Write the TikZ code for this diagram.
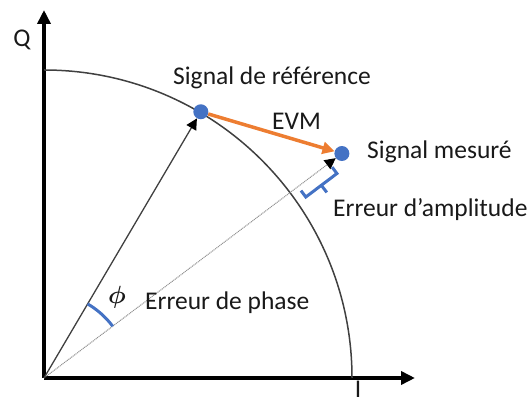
\documentclass[tikz,border=0pt]{standalone}
\usepackage{amsmath}
\usepackage{fontspec}
\setmainfont{Carlito}
\usetikzlibrary{positioning,arrows.meta,calc}
\definecolor{evmorange}{HTML}{ED7D31}
\definecolor{ptblue}{HTML}{4472C4}
\definecolor{arcgray}{HTML}{404040}

\begin{document}
\begin{tikzpicture}[x=1pt, y=1pt,
    axis/.style={line width=3.5pt, -{Triangle[length=14pt,width=13pt]}},
    vec/.style={line width=1.3pt, arcgray, -{Triangle[length=11pt,width=11pt,color=black]}},
    dotvec/.style={line width=1pt, black!45, dash pattern=on 1pt off 0.8pt,
                   -{Triangle[length=11pt,width=11pt,color=black]}},
    evm/.style={line width=3.5pt, evmorange, -{Triangle[length=12pt,width=12pt]}},
    pt/.style={circle, fill=ptblue, minimum size=15pt, inner sep=0pt},
    lbl/.style={font=\fontsize{25.5}{30}\selectfont, text=black!90, inner sep=0pt, anchor=base west}
]
\useasboundingbox (-44,-25) rectangle (488,378);

% Axes
\coordinate (O) at (0,0);
\coordinate (Qend) at (0,368);
\coordinate (Iend) at (371,0);
\draw[axis] (O) -- (Qend);
\draw[axis] (O) -- (Iend);
\node[lbl, anchor=center] (qlabel) at (-22,338) {Q};
\node[lbl, anchor=center] (ilabel) at (314,-11) {I};

% Circle of reference amplitude
\draw[arcgray, line width=1.5pt] (0,308) arc[start angle=90, end angle=0, radius=308];

% Points
\node[pt] (ref) at (59.5:309) {};
\node[pt] (meas) at (37:373) {};

% Vectors
\draw[dotvec] (O) -- (meas);
\draw[vec] (O) -- (ref);
\draw[evm] (ref) -- (meas);

% Phase angle
\draw[ptblue, line width=3pt] (37:86) arc[start angle=37, end angle=59.5, radius=86];
\node[lbl, anchor=center, font=\fontsize{28}{30}\selectfont] (phi) at (73,81) {$\boldsymbol{\phi}$};

% Amplitude bracket
\begin{scope}[rotate=37, ptblue, line width=3pt, line join=miter]
\draw (318,-5) -- (318,-13) -- (357,-13) -- (357,-5);
\draw (337.5,-13) -- (337.5,-22);
\end{scope}

% Labels
\node[lbl] (reflabel) at (129,293) {Signal de référence};
\node[lbl] (measlabel) at (323,219) {Signal mesuré};
\node[lbl] (evmlabel) at (228,248) {EVM};
\node[lbl] (amplabel) at (289,161) {Erreur d’amplitude};
\node[lbl] (phaselabel) at (101,68) {Erreur de phase};

\end{tikzpicture}
\end{document}
